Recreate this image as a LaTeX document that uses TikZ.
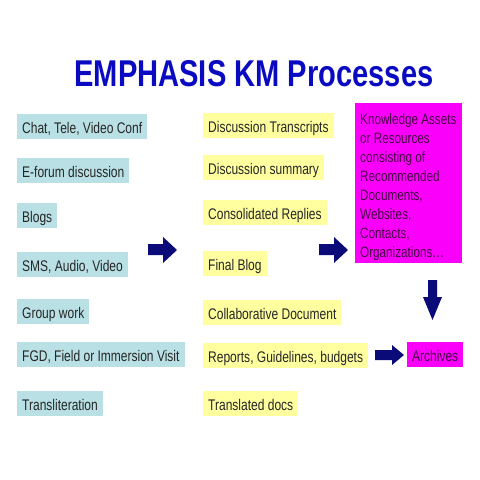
\documentclass[tikz,border=0pt]{standalone}
\usepackage{fontspec}
\setmainfont[FakeStretch=0.78]{Liberation Sans}
\definecolor{titleblue}{RGB}{10,10,195}
\definecolor{navy}{RGB}{10,10,120}
\definecolor{srcblue}{RGB}{185,224,228}
\definecolor{outyellow}{RGB}{255,255,160}
\definecolor{kmag}{RGB}{250,0,250}
\definecolor{ktext}{RGB}{70,0,70}
\tikzset{
  boxbase/.style={anchor=west, inner xsep=5pt, inner ysep=0pt, text height=14.2pt, text depth=0.2pt, minimum height=25pt, font=\fontsize{15.4}{18}\selectfont, text=black!85},
  srcbox/.style={boxbase, fill=srcblue},
  outbox/.style={boxbase, fill=outyellow},
  magbox/.style={boxbase, fill=kmag, text=ktext},
  blockarrow/.style={fill=navy}
}
\begin{document}
\begin{tikzpicture}[x=1pt,y=-1pt]
\useasboundingbox (0,0) rectangle (480,480);
\node[anchor=base, font=\fontsize{37.3}{40}\selectfont\bfseries, text=titleblue, inner sep=0pt] (title) at (254,86.7) {EMPHASIS KM Processes};

\node[srcbox] (s1) at (17,126) {Chat, Tele, Video Conf};
\node[srcbox] (s2) at (17,170.5) {E-forum discussion};
\node[srcbox] (s3) at (17,215.5) {Blogs};
\node[srcbox] (s4) at (17,264) {SMS, Audio, Video};
\node[srcbox] (s5) at (17,311.5) {Group work};
\node[srcbox] (s6) at (17,354) {FGD, Field or Immersion Visit};
\node[srcbox] (s7) at (17,403) {Transliteration};

\node[outbox] (o1) at (203,125) {Discussion Transcripts};
\node[outbox] (o2) at (203,167.5) {Discussion summary};
\node[outbox] (o3) at (203,212.5) {Consolidated Replies};
\node[outbox] (o4) at (203,263.5) {Final Blog};
\node[outbox] (o5) at (203,312.5) {Collaborative Document};
\node[outbox] (o6) at (203,355) {Reports, Guidelines, budgets};
\node[outbox] (o7) at (203,403.5) {Translated docs};

\node[anchor=north west, fill=kmag, minimum width=107pt, minimum height=160pt, inner sep=0pt] (ka) at (355,103) {};
\node[anchor=north west, inner sep=0pt, align=left, text=ktext, font=\fontsize{15}{19}\selectfont] (katext) at (360,113.3) {Knowledge Assets\\or Resources\\consisting of\\Recommended\\Documents,\\Websites,\\Contacts,\\Organizations\dots};
\node[magbox] (ar) at (407,354) {Archives};

\fill[blockarrow] (148,244) -- (163,244) -- (163,237) -- (177,250) -- (163,263) -- (163,255) -- (148,255) -- cycle;
\fill[blockarrow] (319,244) -- (334,244) -- (334,237) -- (348,250) -- (334,263) -- (334,255) -- (319,255) -- cycle;
\fill[blockarrow] (375,350) -- (392,350) -- (392,345) -- (404,355) -- (392,365) -- (392,360) -- (375,360) -- cycle;
\fill[blockarrow] (428,280) -- (437,280) -- (437,297) -- (442,297) -- (432.5,320) -- (423,297) -- (428,297) -- cycle;
\end{tikzpicture}
\end{document}
